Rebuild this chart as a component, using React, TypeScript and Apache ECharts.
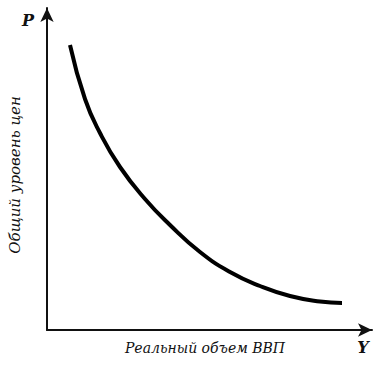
import React, { useEffect, useRef } from "react";
import * as echarts from "echarts";

// Aggregate demand curve (schematic units)
const outputY = [23, 38, 53, 73, 98, 123, 153, 183, 213, 243, 273, 295];
const priceP = [285, 231, 197, 163, 131, 105, 78, 58, 44, 34, 28.5, 27];
const xTitle = "Реальный объем ВВП";
const yTitle = "Общий уровень цен";
const xName = "Y";
const yName = "P";

export default function App() {
  const ref = useRef<HTMLDivElement>(null);
  useEffect(() => {
    if (!ref.current) return;
    const chart = echarts.init(ref.current, null, { renderer: "svg" });
    const font = "'DejaVu Serif', 'Liberation Serif', serif";
    chart.setOption({
      animation: false,
      backgroundColor: "#ffffff",
      grid: { left: 47, right: 13, top: 8, bottom: 36 },
      xAxis: {
        type: "value",
        min: 0,
        max: 325,
        axisLine: {
          show: true,
          symbol: ["none", "arrow"],
          symbolSize: [10, 14],
          lineStyle: { color: "#111", width: 2 },
        },
        axisTick: { show: false },
        axisLabel: { show: false },
        splitLine: { show: false },
      },
      yAxis: {
        type: "value",
        min: 0,
        max: 322,
        axisLine: {
          show: true,
          symbol: ["none", "arrow"],
          symbolSize: [10, 14],
          lineStyle: { color: "#111", width: 2 },
        },
        axisTick: { show: false },
        axisLabel: { show: false },
        splitLine: { show: false },
      },
      series: [
        {
          type: "line",
          data: outputY.map((x, i) => [x, priceP[i]]),
          smooth: true,
          showSymbol: false,
          lineStyle: { color: "#000", width: 4 },
        },
      ],
      graphic: [
        {
          type: "text",
          x: 205,
          y: 348,
          style: {
            text: xTitle,
            font: `italic 14px ${font}`,
            fill: "#111",
            align: "center",
            verticalAlign: "middle",
          },
        },
        {
          type: "text",
          x: 15,
          y: 175,
          rotation: Math.PI / 2,
          style: {
            text: yTitle,
            font: `italic 15px ${font}`,
            fill: "#111",
            align: "center",
            verticalAlign: "middle",
          },
        },
        {
          type: "text",
          x: 28,
          y: 20,
          style: {
            text: yName,
            font: `italic bold 16px ${font}`,
            fill: "#111",
            align: "center",
            verticalAlign: "middle",
          },
        },
        {
          type: "text",
          x: 363,
          y: 347,
          style: {
            text: xName,
            font: `italic bold 16px ${font}`,
            fill: "#111",
            align: "center",
            verticalAlign: "middle",
          },
        },
      ],
    });
    return () => chart.dispose();
  }, []);
  return (
    <div
      ref={ref}
      style={{ position: "absolute", left: 0, top: 0, width: 385, height: 366 }}
    />
  );
}
